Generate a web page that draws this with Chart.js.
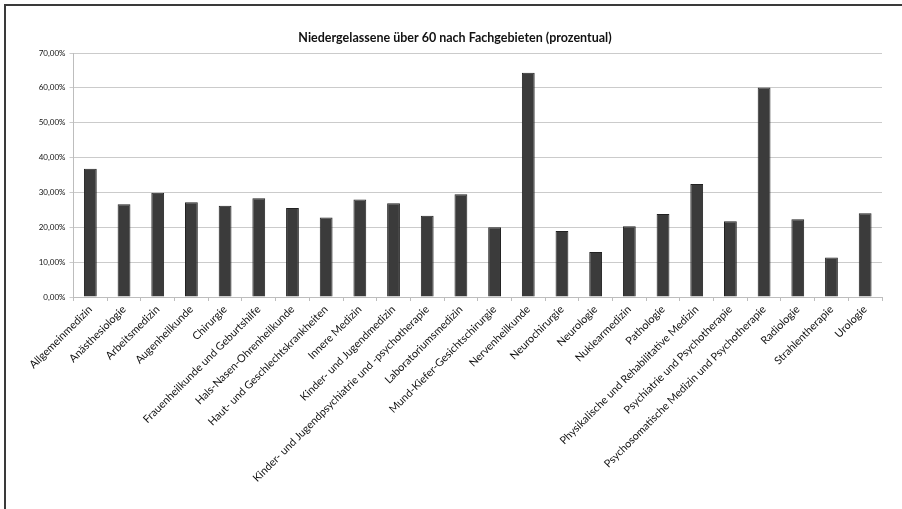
<!DOCTYPE html>
<html lang="de">
<head>
<meta charset="utf-8">
<title>Niedergelassene über 60 nach Fachgebieten</title>
<script src="https://cdn.jsdelivr.net/npm/chart.js@4/dist/chart.umd.min.js"></script>
<style>
  html, body { margin: 0; padding: 0; background: #ffffff; }
  #wrap { width: 902px; height: 509px; position: relative; }
</style>
</head>
<body>
<div id="wrap"><canvas id="chart" width="902" height="509"></canvas></div>
<script>
// Fachgebiete (Kategorien)
const fachgebiete = [
  "Allgemeinmedizin",
  "Anästhesiologie",
  "Arbeitsmedizin",
  "Augenheilkunde",
  "Chirurgie",
  "Frauenheilkunde und Geburtshilfe",
  "Hals-Nasen-Ohrenheilkunde",
  "Haut- und Geschlechtskrankheiten",
  "Innere Medizin",
  "Kinder- und Jugendmedizin",
  "Kinder- und Jugendpsychiatrie und -psychotherapie",
  "Laboratoriumsmedizin",
  "Mund-Kiefer-Gesichtschirurgie",
  "Nervenheilkunde",
  "Neurochirurgie",
  "Neurologie",
  "Nuklearmedizin",
  "Pathologie",
  "Physikalische und Rehabilitative Medizin",
  "Psychiatrie und Psychotherapie",
  "Psychosomatische Medizin und Psychotherapie",
  "Radiologie",
  "Strahlentherapie",
  "Urologie"
];

// Anteil der Niedergelassenen über 60 Jahre, in Prozent
const anteilUeber60 = [
  36.8, 26.6, 29.9, 27.2, 26.2, 28.3, 25.5, 22.8, 28.0, 26.9, 23.3, 29.5,
  20.0, 64.3, 18.9, 12.9, 20.3, 23.8, 32.4, 21.7, 60.1, 22.3, 11.3, 24.0
];

// Achsenbereich der Prozentskala
const yMin = 0;
const yMax = 70;
const yStep = 10;

const titel = "Niedergelassene über 60 nach Fachgebieten (prozentual)";

const fontFamily = "Lato, 'Liberation Sans', sans-serif";

// Rahmenlinien oben und links sowie Diagrammtitel
const framePlugin = {
  id: "frame",
  beforeDraw(chart) {
    const ctx = chart.ctx;
    ctx.save();
    ctx.fillStyle = "#ffffff";
    ctx.fillRect(0, 0, chart.width, chart.height);
    ctx.strokeStyle = "#3a3a3a";
    ctx.lineWidth = 2;
    ctx.beginPath();
    ctx.moveTo(4, 5);
    ctx.lineTo(chart.width, 5);
    ctx.moveTo(5, 4);
    ctx.lineTo(5, chart.height);
    ctx.stroke();

    ctx.fillStyle = "#111111";
    ctx.font = "bold 12.5px " + fontFamily;
    ctx.textAlign = "center";
    ctx.textBaseline = "middle";
    ctx.fillText(titel, 455, 38);
    ctx.restore();
  }
};

const fmtProzent = v => v.toFixed(2).replace(".", ",") + "%";

new Chart(document.getElementById("chart"), {
  type: "bar",
  data: {
    labels: fachgebiete,
    datasets: [{
      label: "Anteil über 60",
      data: anteilUeber60,
      backgroundColor: "#3b3b3b",
      borderColor: "#222222",
      borderWidth: 1,
      barPercentage: 0.38,
      categoryPercentage: 1.0
    }]
  },
  options: {
    responsive: false,
    animation: false,
    devicePixelRatio: 1,
    layout: { padding: { left: 0, right: 20, top: 53, bottom: 0 } },
    plugins: {
      legend: { display: false },
      tooltip: { enabled: false },
      title: { display: false }
    },
    scales: {
      x: {
        offset: true,
        grid: {
          display: true,
          offset: true,
          drawOnChartArea: false,
          drawTicks: true,
          tickLength: 4,
          color: "#bdbdbd"
        },
        border: { display: true, color: "#bdbdbd", width: 1 },
        ticks: {
          autoSkip: false,
          minRotation: 45,
          maxRotation: 45,
          padding: 2,
          color: "#111111",
          font: { family: fontFamily, size: 10.8 }
        },
        afterFit(scale) { scale.height = 212; }
      },
      y: {
        min: yMin,
        max: yMax,
        ticks: {
          stepSize: yStep,
          padding: 4,
          color: "#111111",
          font: { family: fontFamily, size: 8 },
          callback: v => fmtProzent(v)
        },
        grid: {
          color: "#cbcbcb",
          lineWidth: 1,
          tickLength: 4,
          drawTicks: true
        },
        border: { display: true, color: "#bdbdbd", width: 1 },
        afterFit(scale) { scale.width = 73.5; }
      }
    }
  },
  plugins: [framePlugin]
});
</script>
</body>
</html>
